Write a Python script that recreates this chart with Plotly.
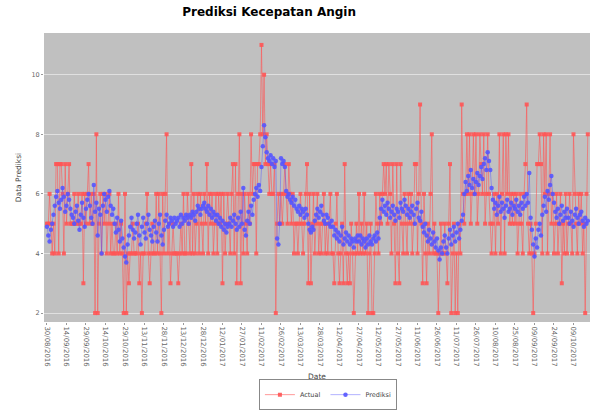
import plotly.graph_objects as go
import pandas as pd

actual = [
    5,5,6,5,4,5,4,7,7,4,7,7,6,4,7,5,6,7,5,5,
    5,6,5,5,6,5,5,6,3,6,5,6,7,5,6,5,6,2,8,2,
    5,6,4,6,5,6,4,5,6,4,5,4,4,5,4,6,4,5,4,2,
    6,2,4,3,4,4,5,4,4,4,5,3,4,2,4,4,5,6,4,3,
    4,5,4,4,6,4,6,4,2,6,4,6,8,4,5,3,4,5,4,4,
    4,3,4,5,4,6,4,4,6,5,4,7,4,6,4,5,6,4,6,5,
    4,6,5,7,4,6,5,6,4,5,6,4,6,5,6,3,6,4,5,6,
    5,4,6,7,4,7,3,6,8,3,6,4,6,5,4,6,5,8,6,7,
    7,4,7,7,8,11,8,10,7,8,7,6,7,6,6,7,2,5,6,5,
    6,5,6,7,6,5,7,6,5,6,4,5,5,4,5,6,5,4,5,6,
    7,3,6,3,5,6,4,5,6,4,5,4,5,6,4,5,4,5,6,4,
    4,3,5,6,4,3,4,5,3,7,4,3,4,3,5,4,2,4,5,4,
    6,4,5,4,6,4,5,2,4,5,2,2,4,6,5,4,6,5,6,7,
    6,7,5,7,6,4,7,5,3,7,4,3,7,5,4,6,5,4,6,5,
    6,4,5,7,7,4,6,9,5,3,6,4,3,5,4,6,8,4,5,4,
    4,2,4,5,4,4,5,4,3,5,7,2,4,5,2,4,2,5,4,9,
    6,5,6,8,6,8,5,6,8,6,8,5,6,8,7,6,8,5,6,8,
    6,5,4,5,6,4,6,5,8,4,6,8,4,8,6,8,5,6,5,6,
    5,6,4,5,6,5,4,6,7,9,5,4,5,4,2,4,5,7,7,8,
    7,4,8,6,8,4,6,8,5,6,4,5,6,4,5,6,3,5,4,6,
    4,5,6,5,4,8,6,5,4,6,5,6,4,5,2,6,8,
]

prediksi = [
    4.9,4.6,4.4,4.8,5.0,5.3,5.6,5.9,6.1,5.7,5.5,5.8,6.2,5.9,5.4,5.6,6.0,5.8,5.5,5.3,
    5.2,5.0,5.4,5.6,5.1,4.8,5.3,5.7,5.2,4.9,5.5,5.8,6.0,5.6,5.2,5.0,6.3,5.4,5.7,4.6,
    5.5,5.3,4.0,5.6,6.0,5.8,5.4,5.9,6.1,5.6,5.3,5.5,5.0,4.7,5.2,4.8,4.4,5.1,4.5,4.2,
    3.9,3.7,4.3,4.6,4.9,5.2,4.8,4.5,4.7,5.0,5.3,4.6,4.3,4.9,5.2,4.7,4.5,5.0,5.3,4.8,
    4.6,4.4,4.9,5.1,4.7,4.4,5.0,5.3,4.6,4.3,4.8,5.1,5.3,4.9,5.0,5.2,5.1,4.9,5.2,5.0,
    5.1,5.2,4.9,5.3,5.0,5.2,5.1,5.3,5.2,5.0,5.3,5.2,5.4,5.3,5.1,5.4,5.6,5.5,5.3,5.5,
    5.6,5.7,5.5,5.4,5.6,5.3,5.5,5.2,5.4,5.3,5.1,5.3,5.0,5.2,4.9,5.1,4.8,5.0,4.7,4.9,
    5.0,5.2,4.9,5.1,5.3,5.0,4.8,5.2,4.9,5.4,5.0,6.2,4.8,4.6,5.1,5.4,5.0,5.6,5.3,5.8,
    6.0,6.2,5.9,6.3,6.1,6.9,7.6,8.3,7.9,7.4,7.2,7.1,7.3,7.0,7.2,6.9,7.1,4.5,4.3,5.0,
    7.2,7.0,7.1,6.9,6.1,5.9,6.0,5.8,5.7,5.9,5.6,5.8,5.5,5.4,5.6,5.3,5.5,5.4,5.2,5.5,
    5.3,5.0,4.8,4.7,4.9,4.8,5.1,5.3,5.5,5.2,5.4,5.6,5.3,5.1,5.0,5.3,5.2,5.0,4.9,5.1,
    4.9,4.6,4.8,4.5,4.7,4.4,4.6,4.9,4.3,4.5,4.7,4.4,4.6,4.3,4.5,4.4,4.2,4.5,4.4,4.6,
    4.4,4.6,4.3,4.5,4.4,4.2,4.5,4.3,4.6,4.4,4.3,4.5,4.6,4.4,4.7,4.5,5.2,5.5,5.8,5.4,
    5.6,5.3,5.7,5.5,5.2,5.4,5.6,5.3,5.1,5.5,5.4,5.2,5.7,5.5,5.4,5.8,5.6,5.3,5.5,5.2,
    5.4,5.6,5.3,5.0,5.5,5.7,5.2,5.1,5.4,4.9,4.7,5.0,4.6,4.4,4.8,4.5,4.3,4.7,4.4,4.2,
    4.5,4.1,3.8,4.2,4.0,4.4,4.6,4.2,4.0,4.5,4.8,4.3,4.6,4.9,4.4,4.7,5.0,4.5,4.8,5.1,
    5.3,6.0,6.4,6.1,6.6,6.3,6.8,6.2,6.5,6.0,6.4,6.7,6.3,6.6,6.9,6.5,7.0,7.2,6.8,7.4,
    7.1,6.8,6.2,5.8,5.5,5.7,5.3,5.6,5.9,5.4,5.7,5.5,5.2,5.6,5.8,5.4,5.5,5.7,5.3,5.6,
    5.5,5.8,5.4,5.6,5.3,5.7,5.5,5.9,5.6,6.0,5.7,6.7,5.2,4.8,4.3,3.9,4.5,4.2,4.8,5.0,
    4.6,5.3,5.6,5.9,5.4,6.1,5.8,6.3,6.6,6.0,5.7,5.4,5.2,5.5,5.0,5.3,5.6,5.1,5.4,5.2,
    5.5,5.2,5.0,5.4,5.1,4.9,5.3,5.5,5.2,5.0,5.3,5.4,5.1,4.9,5.2,5.0,5.1,
]

n = len(actual)
dates = pd.date_range("2016-08-30", periods=n).strftime("%d/%m/%Y").tolist()
idx = list(range(n))
tick_idx = idx[::15]
tick_text = [dates[i] for i in tick_idx]

fig = go.Figure()
fig.add_trace(go.Scatter(
    x=idx, y=actual, name="Actual", mode="lines+markers",
    line=dict(color="rgba(255,85,85,0.6)", width=1),
    marker=dict(symbol="square", size=4, color="rgba(255,85,85,0.9)"),
))
fig.add_trace(go.Scatter(
    x=idx, y=prediksi, name="Prediksi", mode="lines+markers",
    line=dict(color="rgba(85,85,255,0.45)", width=1),
    marker=dict(symbol="circle", size=4.5, color="rgba(85,85,255,0.9)"),
))

fig.update_layout(
    width=594, height=414,
    margin=dict(l=44, r=4, t=33, b=87),
    paper_bgcolor="white",
    plot_bgcolor="#c0c0c0",
    font=dict(family="DejaVu Sans", size=8, color="#555555"),
    title=dict(text="<b>Prediksi Kecepatan Angin</b>", x=0.453, xanchor="center",
               xref="container", y=0.972, yanchor="middle", yref="container",
               font=dict(family="DejaVu Sans", size=12, color="black")),
    showlegend=True,
    legend=dict(orientation="h", x=0.52, xanchor="center", y=-0.305, yanchor="bottom",
                bordercolor="#888888", borderwidth=1, bgcolor="white",
                font=dict(size=6.5, color="#444444"), itemwidth=30,
                tracegroupgap=0),
    xaxis=dict(
        range=[-2.3, 417.7], tickmode="array", tickvals=tick_idx, ticktext=tick_text,
        tickangle=90, tickfont=dict(size=7, color="#666666"), showgrid=False,
        zeroline=False, ticks="outside", ticklen=2, tickcolor="#999999", automargin=False,
        title=dict(text="Date", font=dict(size=7.5, color="#444444"), standoff=7),
    ),
    yaxis=dict(
        range=[1.7, 11.4], tickvals=[2, 4, 6, 8, 10], automargin=False,
        tickfont=dict(size=6.5, color="#666666"), showgrid=True, gridcolor="rgba(255,255,255,0.5)",
        gridwidth=0.5, zeroline=False, ticks="outside", ticklen=2, tickcolor="#999999",
        title=dict(text="Data Prediksi", font=dict(size=7.5, color="#444444"), standoff=8),
    ),
)

fig.write_html(
    "out.html",
    config={"displayModeBar": False},
    post_script="document.body.style.margin='0';document.body.style.overflow='hidden';",
)
